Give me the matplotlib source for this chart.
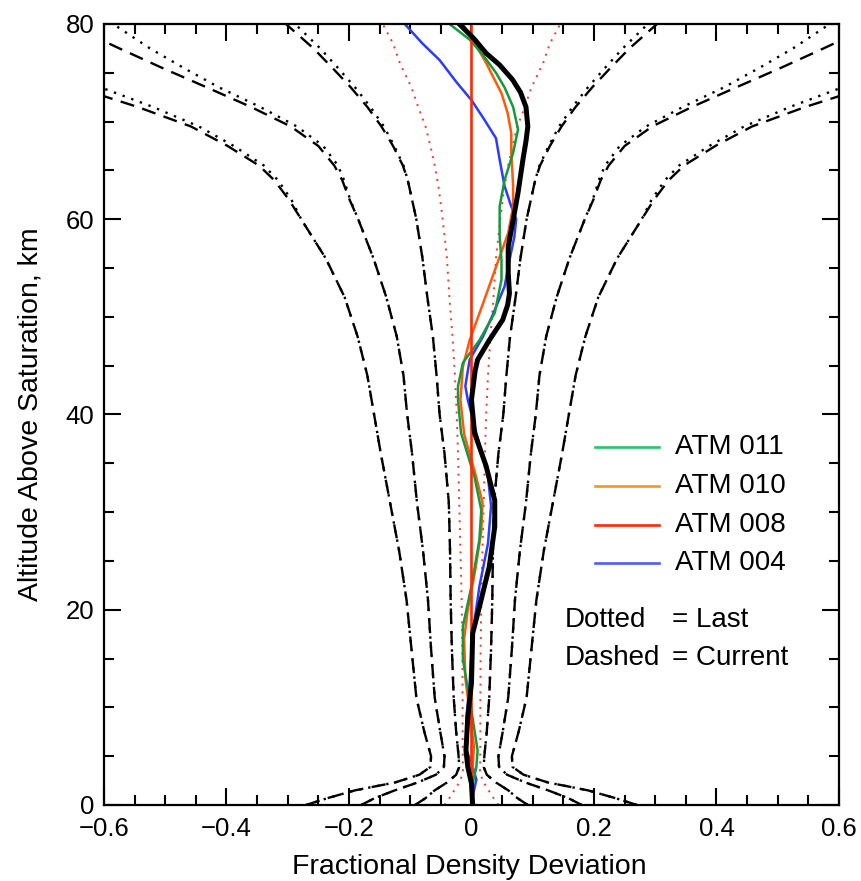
import numpy as np
import matplotlib
matplotlib.use("Agg")
import matplotlib.pyplot as plt
from matplotlib.ticker import MultipleLocator

plt.rcParams['font.family'] = ['Liberation Sans', 'DejaVu Sans']

# envelope half-widths (symmetric about zero)
env_alt = [0, 0.7, 1.5, 2.3, 3.1, 3.9, 5, 7.5, 11, 16, 21, 26, 31, 36, 40, 44,
           48, 52, 56, 60, 62, 64, 65.5, 67.5, 69.5, 71.5, 73.5, 75.5, 77.5, 80]
# current (dashed)
cur_1 = [0.092, 0.075, 0.060, 0.040, 0.025, 0.020, 0.021, 0.025, 0.029, 0.032,
         0.034, 0.035, 0.037, 0.044, 0.052, 0.057, 0.063, 0.072, 0.080, 0.090,
         0.097, 0.104, 0.112, 0.128, 0.147, 0.170, 0.197, 0.227, 0.258, 0.303]
cur_2 = [0.180, 0.158, 0.125, 0.088, 0.058, 0.045, 0.044, 0.051, 0.060, 0.066,
         0.071, 0.079, 0.089, 0.097, 0.105, 0.111, 0.122, 0.139, 0.160, 0.185,
         0.199, 0.211, 0.224, 0.250, 0.295, 0.360, 0.432, 0.505, 0.575, 0.660]
cur_3 = [0.270, 0.235, 0.190, 0.125, 0.085, 0.067, 0.066, 0.077, 0.090, 0.098,
         0.106, 0.118, 0.133, 0.148, 0.159, 0.170, 0.186, 0.207, 0.238, 0.278,
         0.298, 0.322, 0.347, 0.398, 0.458, 0.545, 0.645, 0.720, 0.800, 0.880]
# last (dotted)
last_1 = [0.092, 0.075, 0.060, 0.040, 0.025, 0.020, 0.021, 0.025, 0.029, 0.032,
          0.034, 0.035, 0.037, 0.044, 0.052, 0.057, 0.063, 0.072, 0.080, 0.090,
          0.097, 0.104, 0.111, 0.126, 0.143, 0.165, 0.190, 0.218, 0.247, 0.288]
last_2 = [0.180, 0.158, 0.125, 0.088, 0.058, 0.045, 0.044, 0.051, 0.060, 0.066,
          0.071, 0.079, 0.089, 0.097, 0.105, 0.111, 0.122, 0.139, 0.160, 0.185,
          0.198, 0.208, 0.218, 0.242, 0.285, 0.345, 0.412, 0.470, 0.525, 0.585]
last_3 = [0.270, 0.235, 0.190, 0.125, 0.085, 0.067, 0.066, 0.077, 0.090, 0.098,
          0.106, 0.118, 0.133, 0.148, 0.159, 0.170, 0.186, 0.207, 0.238, 0.278,
          0.294, 0.316, 0.339, 0.388, 0.445, 0.520, 0.605, 0.690, 0.770, 0.850]

# red dotted band
red_alt = [0, 0.8, 1.5, 2.5, 3.5, 7.5, 11, 16, 21, 26, 31, 36, 40, 44, 48, 52,
           56, 60, 63, 65.5, 67.5, 69.5, 71.5, 73.5, 76, 78, 80]
red_half = [0.044, 0.035, 0.028, 0.018, 0.014, 0.0145, 0.0145, 0.015, 0.016,
            0.018, 0.020, 0.022, 0.024, 0.027, 0.031, 0.036, 0.040, 0.047,
            0.053, 0.060, 0.067, 0.075, 0.087, 0.098, 0.117, 0.128, 0.145]

# black thick profile
blk_alt = [0, 2.2, 3.9, 5.6, 9, 12.5, 17.6, 20.3, 24.4, 28.5, 31.2, 34.7, 38.1,
           41.5, 43, 44.5, 45.6, 47.6, 49.7, 51.2, 52.4, 54.5, 57.2, 59.9, 62.7,
           66.1, 68, 69.5, 71.5, 73, 74.3, 75.8, 77, 78.5, 80]
blk_dev = [0.002, 0.0, -0.006, -0.009, -0.006, 0.0, 0.002, 0.013, 0.029, 0.038,
           0.038, 0.024, 0.005, 0.0, 0.003, 0.006, 0.010, 0.029, 0.051, 0.059,
           0.062, 0.060, 0.060, 0.068, 0.076, 0.084, 0.089, 0.092, 0.089, 0.080,
           0.067, 0.046, 0.024, 0.004, -0.020]

# ATM 011
grn_alt = [0, 2.2, 3.9, 5.6, 10.8, 14.9, 18.3, 22.4, 27.2, 30.2, 33.6, 38.1,
           41.5, 42.9, 45.3, 47.6, 50.4, 53.8, 55.8, 58.2, 61.3, 64.0, 66.8,
           69.2, 71.5, 73.5, 75, 76.8, 78.4, 80]
grn_dev = [0.0, 0.002, 0.008, 0.010, -0.003, -0.014, -0.014, 0.0, 0.013, 0.016,
           0.005, -0.017, -0.022, -0.022, -0.014, 0.013, 0.038, 0.049, 0.049,
           0.046, 0.046, 0.054, 0.068, 0.076, 0.068, 0.054, 0.040, 0.019,
           -0.003, -0.036]

# ATM 010
org_alt = [0, 2, 4, 6, 10, 13, 17, 20, 24, 28, 31, 34, 38, 41.5, 44.9, 47.6,
           51.4, 55.1, 58.6, 61.3, 63.4, 66.8, 68.8, 70.9, 72.9, 76, 78.4, 80]
org_dev = [0.0, 0.0, 0.002, 0.004, -0.004, -0.010, -0.012, -0.006, 0.006, 0.016,
           0.018, 0.006, -0.012, -0.018, -0.014, -0.003, 0.019, 0.040, 0.060,
           0.068, 0.068, 0.065, 0.065, 0.059, 0.049, 0.024, 0.002, -0.014]

# ATM 004
blu_alt = [0, 0.9, 2.6, 3.9, 5.6, 9, 12.5, 17.6, 22.4, 26.8, 30.6, 33.6, 38.1,
           41.5, 42.9, 45.6, 48, 50.4, 53.1, 55.8, 58.2, 60, 61.3, 63.4, 66.1,
           68.3, 70.3, 72.2, 74, 76.3, 78, 80]
blu_dev = [0.0, 0.002, 0.008, 0.002, -0.008, -0.008, -0.003, 0.002, 0.013,
           0.027, 0.032, 0.027, 0.008, -0.006, -0.010, -0.003, 0.019, 0.036,
           0.054, 0.062, 0.070, 0.073, 0.065, 0.054, 0.046, 0.040, 0.020, 0.0,
           -0.024, -0.052, -0.080, -0.109]

# ATM 008 is the reference (zero line)
ref_alt = [0, 80]
ref_dev = [0, 0]

legend_labels = ['ATM 011', 'ATM 010', 'ATM 008', 'ATM 004']
legend_colors = ['#22c76a', '#ff9414', '#ff2a00', '#4a5cff']

fig = plt.figure(figsize=(8.62, 8.81), dpi=100)
ax = fig.add_axes([0.1206, 0.0863, 0.8527, 0.8865])

alt = np.array(env_alt)
dash_style = (0, (6.0, 3.6))
dot_style = (0, (1.0, 2.9))
for cur, last in [(cur_1, last_1), (cur_2, last_2), (cur_3, last_3)]:
    cur = np.array(cur)
    last = np.array(last)
    for sgn in (-1, 1):
        ax.plot(sgn * cur, alt, color='black', lw=1.7, linestyle=dash_style)
        ax.plot(sgn * last, alt, color='black', lw=1.7, linestyle=dot_style)

rh = np.array(red_half)
for sgn in (-1, 1):
    ax.plot(sgn * rh, red_alt, color='#ff3030', lw=1.4, linestyle=(0, (1.0, 3.0)))

ax.plot(blu_dev, blu_alt, color='#2a3cff', lw=1.8)
ax.plot(org_dev, org_alt, color='#ff5a0a', lw=1.8)
ax.plot(grn_dev, grn_alt, color='#139a3a', lw=1.8)
ax.plot(ref_dev, ref_alt, color='#ff2a00', lw=1.9)
ax.plot(blk_dev, blk_alt, color='black', lw=3.6, solid_joinstyle='round')

ax.set_xlim(-0.6, 0.6)
ax.set_ylim(0, 80)
ax.xaxis.set_minor_locator(MultipleLocator(0.05))
ax.yaxis.set_minor_locator(MultipleLocator(5))
ax.tick_params(which='both', direction='in', top=True, right=True, width=1.5,
               labelsize=18.5)
ax.tick_params(axis='x', pad=9)
ax.tick_params(axis='y', pad=7)
ax.tick_params(which='major', length=12)
ax.tick_params(which='minor', length=7)
for sp in ax.spines.values():
    sp.set_linewidth(1.6)

ax.set_xticks(np.arange(-0.6, 0.61, 0.2))
ax.set_xticklabels(['\u22120.6', '\u22120.4', '\u22120.2', '0', '0.2', '0.4', '0.6'])
ax.set_yticks([0, 20, 40, 60, 80])

fig.text(0.545, 0.016, 'Fractional Density Deviation', ha='center', va='center',
         fontsize=20.5)
fig.text(0.035, 0.53, 'Altitude Above Saturation, km', ha='center', va='center',
         rotation=90, fontsize=20.5)

# legend
rows_y = [0.458, 0.408, 0.359, 0.310]
for lab, col, yy in zip(legend_labels, legend_colors, rows_y):
    ax.plot([0.668, 0.755], [yy, yy], color=col, lw=1.9, transform=ax.transAxes,
            clip_on=False)
    ax.text(0.777, yy, lab, transform=ax.transAxes, fontsize=20, va='center',
            ha='left')
ax.text(0.627, 0.237, 'Dotted', transform=ax.transAxes, fontsize=20, va='center')
ax.text(0.773, 0.237, '= Last', transform=ax.transAxes, fontsize=20, va='center')
ax.text(0.627, 0.188, 'Dashed', transform=ax.transAxes, fontsize=20, va='center')
ax.text(0.773, 0.188, '= Current', transform=ax.transAxes, fontsize=20, va='center')

fig.savefig('out.png', dpi=100)
